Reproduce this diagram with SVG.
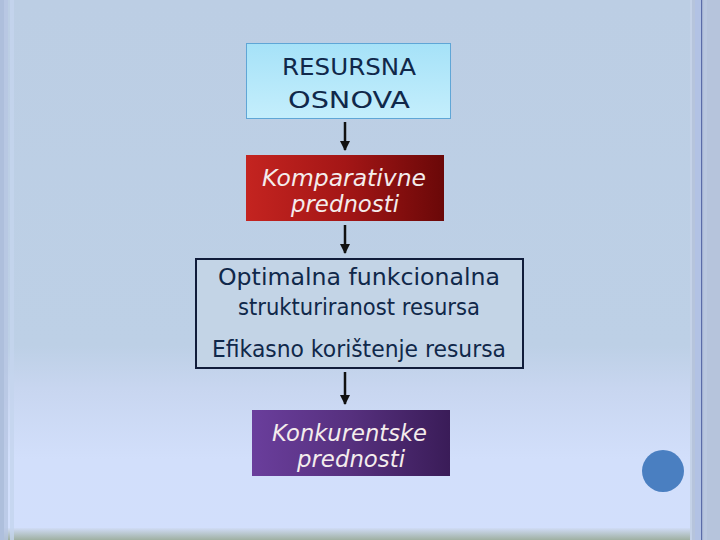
<svg xmlns="http://www.w3.org/2000/svg" width="720" height="540" viewBox="0 0 720 540">
<defs>
<linearGradient id="bg" x1="0" y1="0" x2="0" y2="1">
<stop offset="0" stop-color="#bccee4"/>
<stop offset="0.64" stop-color="#bdd0e6"/>
<stop offset="0.72" stop-color="#c8d6f0"/>
<stop offset="0.85" stop-color="#d2dffb"/>
<stop offset="1" stop-color="#d2dffc"/>
</linearGradient>
<linearGradient id="bottom" x1="0" y1="0" x2="0" y2="1">
<stop offset="0" stop-color="#d0dcf6"/>
<stop offset="1" stop-color="#9fb0a2"/>
</linearGradient>
<linearGradient id="cyan" x1="0" y1="0" x2="0" y2="1">
<stop offset="0" stop-color="#a6e2f8"/>
<stop offset="1" stop-color="#c4eefc"/>
</linearGradient>
<linearGradient id="red" x1="0" y1="0" x2="1" y2="0">
<stop offset="0" stop-color="#c42420"/>
<stop offset="0.5" stop-color="#a41616"/>
<stop offset="1" stop-color="#6a0808"/>
</linearGradient>
<linearGradient id="purple" x1="0" y1="0" x2="1" y2="0">
<stop offset="0" stop-color="#6a3e9c"/>
<stop offset="0.5" stop-color="#56307e"/>
<stop offset="1" stop-color="#3a1c58"/>
</linearGradient>
<marker id="ah" viewBox="0 0 10 10" refX="9" refY="5" markerWidth="4" markerHeight="4" orient="auto" markerUnits="strokeWidth">
<path d="M0,0 L10,5 L0,10 z" fill="#111"/>
</marker>
<style>
.conn{stroke:#111;stroke-width:2.5;fill:none;marker-end:url(#ah)}
.t{font-family:"URW Gothic","Century Gothic","DejaVu Sans",sans-serif;text-anchor:middle}
.dark{fill:#10284a;font-size:23.5px}
.it{fill:#f4ecec;font-style:italic;font-size:23px}
</style>
</defs>
<rect width="720" height="540" fill="url(#bg)"/>
<rect x="0" y="528" width="720" height="12" fill="url(#bottom)"/>
<rect x="0" y="0" width="4" height="540" fill="#aebfdc"/>
<rect x="4" y="0" width="4" height="540" fill="#b6c6e2" opacity="0.8"/>
<rect x="10" y="0" width="4" height="540" fill="#c4d4ee" opacity="0.8"/>
<rect x="690" y="0" width="30" height="540" fill="#b6c4dc"/>
<rect x="690" y="0" width="2" height="540" fill="#c4d2e8"/>
<rect x="695" y="0" width="7" height="540" fill="#b2c2e4"/>
<rect x="701" y="0" width="1.2" height="540" fill="#5a6ca8"/>
<rect x="704" y="0" width="3" height="540" fill="#bac8e0"/>
<g id="circle"><circle cx="663" cy="471" r="21" fill="#4a7fc1"/></g>
<g id="connectors">
<line class="conn" x1="345" y1="122" x2="345" y2="150"/>
<line class="conn" x1="345" y1="225" x2="345" y2="253"/>
<line class="conn" x1="345" y1="372" x2="345" y2="404"/>
</g>
<g id="resursna">
<rect x="246.5" y="43.5" width="204" height="75" fill="url(#cyan)" stroke="#5fa6d6" stroke-width="1"/>
<text class="t dark" x="349" y="75" font-size="24" textLength="134" lengthAdjust="spacingAndGlyphs">RESURSNA</text>
<text class="t dark" x="349" y="108" font-size="24" textLength="122" lengthAdjust="spacingAndGlyphs">OSNOVA</text>
</g>
<g id="komparativne">
<rect x="246" y="155" width="198" height="66" fill="url(#red)"/>
<text class="t it" x="344" y="186" textLength="164" lengthAdjust="spacingAndGlyphs">Komparativne</text>
<text class="t it" x="345" y="212" textLength="108" lengthAdjust="spacingAndGlyphs">prednosti</text>
</g>
<g id="optimalna">
<rect x="196" y="259" width="327" height="109" fill="#c3d4e6" stroke="#101c3a" stroke-width="2"/>
<text class="t dark" x="359" y="285" textLength="282" lengthAdjust="spacingAndGlyphs">Optimalna funkcionalna</text>
<text class="t dark" x="359" y="315" textLength="242" lengthAdjust="spacingAndGlyphs">strukturiranost resursa</text>
<text class="t dark" x="359" y="357" textLength="294" lengthAdjust="spacingAndGlyphs">Efikasno korištenje resursa</text>
</g>
<g id="konkurentske">
<rect x="252" y="410" width="198" height="66" fill="url(#purple)"/>
<text class="t it" x="349.5" y="441" textLength="155" lengthAdjust="spacingAndGlyphs">Konkurentske</text>
<text class="t it" x="351" y="467" textLength="108" lengthAdjust="spacingAndGlyphs">prednosti</text>
</g>
</svg>
